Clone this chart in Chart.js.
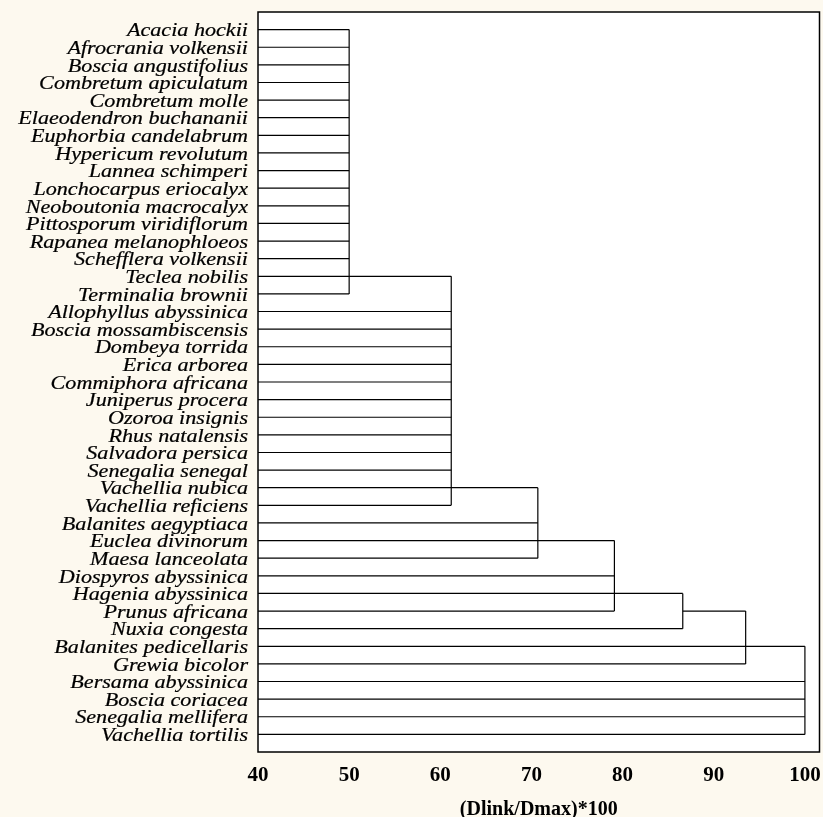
<!DOCTYPE html>
<html>
<head>
<meta charset="utf-8">
<title>Dendrogram</title>
<script src="https://cdn.jsdelivr.net/npm/chart.js@4"></script>
<style>
  body { margin: 0; background: #fdf9ef; }
  #wrap { width: 823px; height: 817px; }
</style>
</head>
<body>
<div id="wrap"><canvas id="tree"></canvas></div>
<script>
// species, top to bottom
let species = [
  "Acacia hockii", "Afrocrania volkensii", "Boscia angustifolius", "Combretum apiculatum",
  "Combretum molle", "Elaeodendron buchananii", "Euphorbia candelabrum", "Hypericum revolutum",
  "Lannea schimperi", "Lonchocarpus eriocalyx", "Neoboutonia macrocalyx", "Pittosporum viridiflorum",
  "Rapanea melanophloeos", "Schefflera volkensii", "Teclea nobilis", "Terminalia brownii",
  "Allophyllus abyssinica", "Boscia mossambiscensis", "Dombeya torrida", "Erica arborea",
  "Commiphora africana", "Juniperus procera", "Ozoroa insignis", "Rhus natalensis",
  "Salvadora persica", "Senegalia senegal", "Vachellia nubica", "Vachellia reficiens",
  "Balanites aegyptiaca", "Euclea divinorum", "Maesa lanceolata", "Diospyros abyssinica",
  "Hagenia abyssinica", "Prunus africana", "Nuxia congesta", "Balanites pedicellaris",
  "Grewia bicolor", "Bersama abyssinica", "Boscia coriacea", "Senegalia mellifera",
  "Vachellia tortilis"
];

// where each leaf's horizontal line stops (linkage distance)
let leafEnd = [
  50, 50, 50, 50, 50, 50, 50, 50, 50, 50, 50, 50, 50, 50, 61.2, 50,
  61.2, 61.2, 61.2, 61.2, 61.2, 61.2, 61.2, 61.2, 61.2, 61.2, 70.7, 61.2,
  70.7, 79.1, 70.7, 79.1, 86.6, 79.1, 86.6, 100, 93.5, 100, 100, 100, 100
];

// vertical joins: height, first row, last row
let joinHeight = [50, 61.2, 70.7, 79.1, 86.6, 93.5, 100];
let joinFrom = [0, 14, 26, 29, 32, 33, 35];
let joinTo = [15, 27, 30, 33, 34, 36, 40];

// extra link between clusters (row, from, to)
let linkRow = [33];
let linkFrom = [86.6];
let linkTo = [93.5];

let xTicks = [40, 50, 60, 70, 80, 90, 100];

let lineStyle = { borderColor: "#000", borderWidth: 1.2, pointRadius: 0, showLine: true };

let datasets = [];
for (let i = 0; i < species.length; i++) {
  datasets.push({ ...lineStyle, data: [{ x: 40, y: i }, { x: leafEnd[i], y: i }] });
}
for (let j = 0; j < joinHeight.length; j++) {
  datasets.push({ ...lineStyle, data: [{ x: joinHeight[j], y: joinFrom[j] }, { x: joinHeight[j], y: joinTo[j] }] });
}
for (let k = 0; k < linkRow.length; k++) {
  datasets.push({ ...lineStyle, data: [{ x: linkFrom[k], y: linkRow[k] }, { x: linkTo[k], y: linkRow[k] }] });
}

// cream page, white plot, frame and the italic species names
let treeDecor = {
  id: "treeDecor",
  beforeDraw(chart) {
    let ctx = chart.ctx;
    let a = chart.chartArea;
    ctx.save();
    ctx.fillStyle = "#fdf9ef";
    ctx.fillRect(0, 0, chart.width, chart.height);
    ctx.fillStyle = "#fff";
    ctx.fillRect(a.left, a.top, a.right - a.left, a.bottom - a.top);
    ctx.restore();
  },
  afterDraw(chart) {
    let ctx = chart.ctx;
    let a = chart.chartArea;
    let yScale = chart.scales.y;
    ctx.save();
    ctx.strokeStyle = "#000";
    ctx.lineWidth = 1.5;
    ctx.strokeRect(a.left, a.top, a.right - a.left, a.bottom - a.top);
    ctx.fillStyle = "#000";
    ctx.lineWidth = 0.2; // a touch heavier, like the original
    ctx.font = 'italic 18px "Liberation Serif"';
    ctx.textAlign = "right";
    ctx.textBaseline = "middle";
    for (let i = 0; i < species.length; i++) {
      let y = yScale.getPixelForValue(i);
      ctx.save();
      ctx.translate(a.left - 10, y + 2);
      ctx.scale(1.23, 1); // labels in the original are drawn wide
      ctx.fillText(species[i], 0, 0);
      ctx.strokeText(species[i], 0, 0);
      ctx.restore();
    }
    ctx.restore();
  }
};

new Chart(document.getElementById("tree"), {
  type: "scatter",
  data: { datasets: datasets },
  options: {
    responsive: true,
    maintainAspectRatio: false,
    animation: false,
    layout: { padding: { top: 12, right: 3.5, bottom: 0, left: 0 } },
    plugins: { legend: { display: false }, tooltip: { enabled: false } },
    scales: {
      x: {
        min: 40,
        max: 101.6,
        afterBuildTicks: scale => { scale.ticks = xTicks.map(v => ({ value: v })); },
        afterFit: scale => {
          scale.height = 65;
          scale.paddingLeft = 0;
          scale.paddingRight = 0;
        },
        grid: { display: false },
        border: { display: false },
        ticks: {
          color: "#000",
          padding: 3,
          font: { family: "Liberation Serif", size: 21, weight: "bold" }
        },
        title: {
          display: true,
          text: "(Dlink/Dmax)*100",
          color: "#000",
          padding: { top: 0, bottom: -5 },
          font: { family: "Liberation Serif", size: 20, weight: "bold" }
        }
      },
      y: {
        reverse: true,
        min: -1,
        max: 41,
        afterFit: scale => { scale.width = 258; },
        grid: { display: false },
        border: { display: false },
        ticks: { display: false }
      }
    }
  },
  plugins: [treeDecor]
});
</script>
</body>
</html>
